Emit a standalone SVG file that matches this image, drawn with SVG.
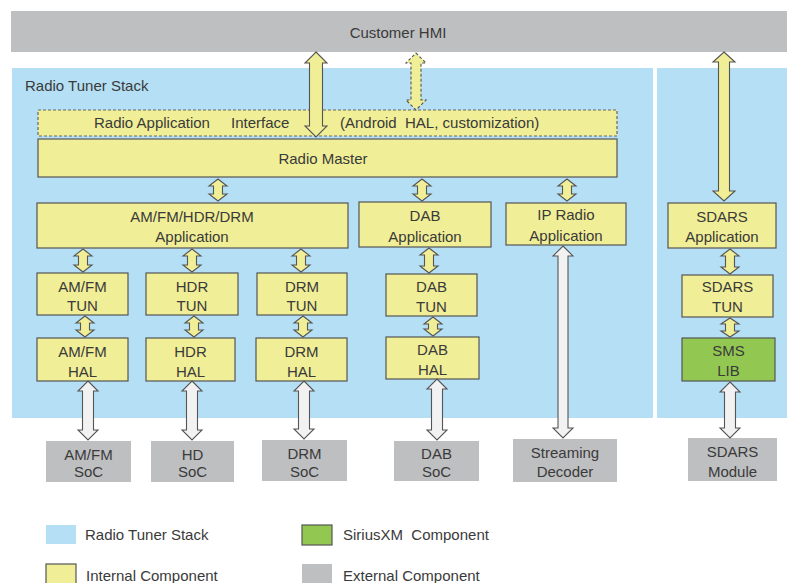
<svg xmlns="http://www.w3.org/2000/svg" width="787" height="583" viewBox="0 0 787 583">
  <style>
    text { font-family: "Liberation Sans", Arial, sans-serif; font-size: 15px; fill: #3a3a3a; white-space: pre; }
    .c { text-anchor: middle; }
    .panel { fill: #b5dff5; }
    .ext { fill: #bebfc1; }
    .int { fill: #f0ee96; stroke: #555; stroke-width: 1.2; }
    .sxm { fill: #92c851; stroke: #555; stroke-width: 1.2; }
    .dash { fill: #f0ee96; stroke: #666; stroke-width: 1.2; stroke-dasharray: 3 2; }
    .ya { fill: #f0ee96; stroke: #555; stroke-width: 1.1; stroke-linejoin: miter; }
    .yad { fill: #f0ee96; stroke: #555; stroke-width: 1.1; stroke-dasharray: 3 2; }
    .wa { fill: #f2f2f2; stroke: #555; stroke-width: 1.1; }
  </style>

  <!-- background panels -->
  <g id="customer-hmi">
    <rect class="ext" x="11" y="11" width="776" height="41"/>
    <text class="c" x="398" y="38">Customer HMI</text>
  </g>
  <g id="radio-tuner-stack">
    <rect class="panel" x="12" y="68" width="641" height="350"/>
    <text x="25" y="91">Radio Tuner Stack</text>
  </g>
  <g id="sdars-stack">
    <rect class="panel" x="657" y="68" width="130" height="350"/>
  </g>

  <!-- upper layers -->
  <g id="app-interface">
    <rect class="dash" x="38" y="110" width="579" height="26"/>
    <text x="94" y="128">Radio Application</text>
    <text x="231" y="128">Interface</text>
    <text x="340" y="128" xml:space="preserve">(Android  HAL, customization)</text>
  </g>
  <g id="radio-master">
    <rect class="int" x="38" y="139" width="579" height="38"/>
    <text class="c" x="323" y="164">Radio Master</text>
  </g>

  <!-- applications -->
  <g id="amfm-app">
    <rect class="int" x="37" y="203" width="311" height="45"/>
    <text class="c" x="192" y="222">AM/FM/HDR/DRM</text>
    <text class="c" x="192" y="242">Application</text>
  </g>
  <g id="dab-app">
    <rect class="int" x="359" y="202" width="132" height="45"/>
    <text class="c" x="425" y="221">DAB</text>
    <text class="c" x="425" y="242">Application</text>
  </g>
  <g id="ip-app">
    <rect class="int" x="506" y="203" width="120" height="42"/>
    <text class="c" x="566" y="220">IP Radio</text>
    <text class="c" x="566" y="241">Application</text>
  </g>
  <g id="sdars-app">
    <rect class="int" x="668" y="203" width="108" height="45"/>
    <text class="c" x="722" y="222">SDARS</text>
    <text class="c" x="722" y="242">Application</text>
  </g>

  <!-- tuners -->
  <g id="amfm-tun">
    <rect class="int" x="37" y="273" width="91" height="42"/>
    <text class="c" x="82.5" y="292">AM/FM</text>
    <text class="c" x="82.5" y="311">TUN</text>
  </g>
  <g id="hdr-tun">
    <rect class="int" x="146" y="273" width="92" height="42"/>
    <text class="c" x="192" y="292">HDR</text>
    <text class="c" x="192" y="311">TUN</text>
  </g>
  <g id="drm-tun">
    <rect class="int" x="257" y="273" width="90" height="42"/>
    <text class="c" x="302" y="292">DRM</text>
    <text class="c" x="302" y="311">TUN</text>
  </g>
  <g id="dab-tun">
    <rect class="int" x="386" y="274" width="91" height="42"/>
    <text class="c" x="431.5" y="292">DAB</text>
    <text class="c" x="431.5" y="312">TUN</text>
  </g>
  <g id="sdars-tun">
    <rect class="int" x="682" y="275" width="91" height="42"/>
    <text class="c" x="727.5" y="292">SDARS</text>
    <text class="c" x="727.5" y="312">TUN</text>
  </g>

  <!-- HAL / libraries -->
  <g id="amfm-hal">
    <rect class="int" x="37" y="338" width="91" height="43"/>
    <text class="c" x="82.5" y="357">AM/FM</text>
    <text class="c" x="82.5" y="377">HAL</text>
  </g>
  <g id="hdr-hal">
    <rect class="int" x="146" y="338" width="89" height="43"/>
    <text class="c" x="190.5" y="357">HDR</text>
    <text class="c" x="190.5" y="377">HAL</text>
  </g>
  <g id="drm-hal">
    <rect class="int" x="256" y="338" width="91" height="43"/>
    <text class="c" x="301.5" y="357">DRM</text>
    <text class="c" x="301.5" y="377">HAL</text>
  </g>
  <g id="dab-hal">
    <rect class="int" x="386" y="337" width="93" height="42"/>
    <text class="c" x="432.5" y="355">DAB</text>
    <text class="c" x="432.5" y="375">HAL</text>
  </g>
  <g id="sms-lib">
    <rect class="sxm" x="682" y="338" width="93" height="43"/>
    <text class="c" x="728.5" y="356">SMS</text>
    <text class="c" x="728.5" y="376">LIB</text>
  </g>

  <!-- external hardware -->
  <g id="amfm-soc">
    <rect class="ext" x="46" y="441" width="85" height="41"/>
    <text class="c" x="88.5" y="460">AM/FM</text>
    <text class="c" x="88.5" y="477">SoC</text>
  </g>
  <g id="hd-soc">
    <rect class="ext" x="151" y="441" width="83" height="41"/>
    <text class="c" x="192.5" y="460">HD</text>
    <text class="c" x="192.5" y="477">SoC</text>
  </g>
  <g id="drm-soc">
    <rect class="ext" x="262" y="440" width="85" height="41"/>
    <text class="c" x="304.5" y="459">DRM</text>
    <text class="c" x="304.5" y="477">SoC</text>
  </g>
  <g id="dab-soc">
    <rect class="ext" x="394" y="441" width="85" height="40"/>
    <text class="c" x="436.5" y="459">DAB</text>
    <text class="c" x="436.5" y="477">SoC</text>
  </g>
  <g id="streaming-decoder">
    <rect class="ext" x="513" y="439" width="104" height="43"/>
    <text class="c" x="565" y="458">Streaming</text>
    <text class="c" x="565" y="477">Decoder</text>
  </g>
  <g id="sdars-module">
    <rect class="ext" x="688" y="438" width="89" height="43"/>
    <text class="c" x="732.5" y="457">SDARS</text>
    <text class="c" x="732.5" y="477">Module</text>
  </g>

  <!-- connectors: block double arrows -->
  <g id="connectors">
    <!-- HMI links -->
    <path class="ya" d="M316,52 L327,63 L322.5,63 L322.5,126 L327,126 L316,137 L305,126 L309.5,126 L309.5,63 L305,63 Z"/>
    <path class="yad" d="M416,53 L426,63 L421,63 L421,100 L426,100 L416,110 L406,100 L411,100 L411,63 L406,63 Z"/>
    <path class="ya" d="M724,52 L735,62 L729.5,62 L729.5,191 L735,191 L724,201 L713,191 L718.5,191 L718.5,62 L713,62 Z"/>

    <!-- Radio Master to applications -->
    <path class="ya" d="M218,179 L227,186 L222.5,186 L222.5,194 L227,194 L218,201 L209,194 L213.5,194 L213.5,186 L209,186 Z"/>
    <path class="ya" d="M422,179 L431,186 L426.5,186 L426.5,194 L431,194 L422,201 L413,194 L417.5,194 L417.5,186 L413,186 Z"/>
    <path class="ya" d="M567,179 L576,186 L571.5,186 L571.5,194 L576,194 L567,201 L558,194 L562.5,194 L562.5,186 L558,186 Z"/>

    <!-- applications to tuners -->
    <path class="ya" d="M83,249 L92,256 L87.5,256 L87.5,265 L92,265 L83,272 L74,265 L78.5,265 L78.5,256 L74,256 Z"/>
    <path class="ya" d="M192,249 L201,256 L196.5,256 L196.5,265 L201,265 L192,272 L183,265 L187.5,265 L187.5,256 L183,256 Z"/>
    <path class="ya" d="M301,249 L310,256 L305.5,256 L305.5,265 L310,265 L301,272 L292,265 L296.5,265 L296.5,256 L292,256 Z"/>
    <path class="ya" d="M429,248 L438,255 L433.5,255 L433.5,266 L438,266 L429,273 L420,266 L424.5,266 L424.5,255 L420,255 Z"/>
    <path class="ya" d="M730,249 L739,256 L734.5,256 L734.5,267 L739,267 L730,274 L721,267 L725.5,267 L725.5,256 L721,256 Z"/>

    <!-- tuners to HAL -->
    <path class="ya" d="M85,316 L94,323 L89.5,323 L89.5,330 L94,330 L85,337 L76,330 L80.5,330 L80.5,323 L76,323 Z"/>
    <path class="ya" d="M194,316 L203,323 L198.5,323 L198.5,330 L203,330 L194,337 L185,330 L189.5,330 L189.5,323 L185,323 Z"/>
    <path class="ya" d="M303,316 L312,323 L307.5,323 L307.5,330 L312,330 L303,337 L294,330 L298.5,330 L298.5,323 L294,323 Z"/>
    <path class="ya" d="M433,317 L442,324 L437.5,324 L437.5,329 L442,329 L433,336 L424,329 L428.5,329 L428.5,324 L424,324 Z"/>
    <path class="ya" d="M730,318 L739,324 L734.5,324 L734.5,331 L739,331 L730,337 L721,331 L725.5,331 L725.5,324 L721,324 Z"/>

    <!-- HAL to external hardware -->
    <path class="wa" d="M88,381 L98,391 L93.5,391 L93.5,430 L98,430 L88,440 L78,430 L82.5,430 L82.5,391 L78,391 Z"/>
    <path class="wa" d="M192,381 L202,391 L197.5,391 L197.5,430 L202,430 L192,440 L182,430 L186.5,430 L186.5,391 L182,391 Z"/>
    <path class="wa" d="M304,381 L314,391 L309.5,391 L309.5,429 L314,429 L304,439 L294,429 L298.5,429 L298.5,391 L294,391 Z"/>
    <path class="wa" d="M437,379 L447,389 L442.5,389 L442.5,430 L447,430 L437,440 L427,430 L431.5,430 L431.5,389 L427,389 Z"/>
    <path class="wa" d="M563,246 L573,256 L568,256 L568,428 L573,428 L563,438 L553,428 L558,428 L558,256 L553,256 Z"/>
    <path class="wa" d="M730,382 L740,392 L735.5,392 L735.5,428 L740,428 L730,438 L720,428 L724.5,428 L724.5,392 L720,392 Z"/>
  </g>

  <!-- legend -->
  <g id="legend">
    <rect class="panel" x="46" y="525" width="30" height="19"/>
    <text x="85" y="540">Radio Tuner Stack</text>
    <rect class="sxm" x="302" y="525" width="30" height="20"/>
    <text x="343" y="540" xml:space="preserve">SiriusXM  Component</text>
    <rect class="int" x="46" y="564" width="30" height="26"/>
    <text x="86" y="581">Internal Component</text>
    <rect class="ext" x="302" y="564" width="30" height="26"/>
    <text x="343" y="581">External Component</text>
  </g>
</svg>
